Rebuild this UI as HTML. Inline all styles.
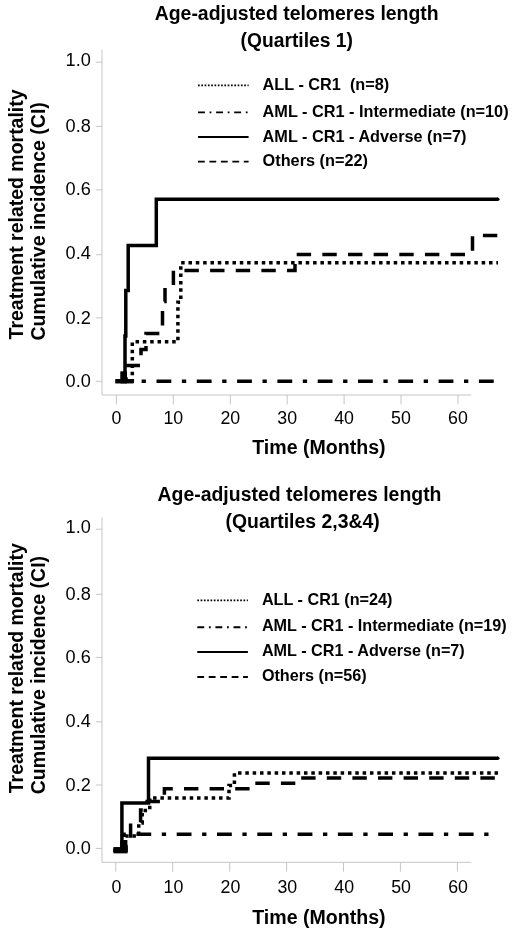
<!DOCTYPE html>
<html><head><meta charset="utf-8"><title>Treatment related mortality</title>
<style>
html,body{margin:0;padding:0;background:#fff;}
body{width:520px;height:937px;overflow:hidden;}
svg{display:block;}
text{font-family:"Liberation Sans", Arial, Helvetica, sans-serif;fill:#000;}
.b{font-weight:bold;}
.r{font-weight:normal;}
</style></head>
<body>
<svg width="520" height="937" viewBox="0 0 520 937">
<rect width="520" height="937" fill="#fff"/>
<path d="M102.0,49.8 V395.0 H471.2" fill="none" stroke="#c2c2c2" stroke-width="0.95"/>
<path d="M95.8,381.3 H102.0" stroke="#c2c2c2" stroke-width="0.95"/>
<text x="65.6" y="386.7" font-size="17.5" class="r" textLength="25.2" lengthAdjust="spacingAndGlyphs">0.0</text>
<path d="M95.8,317.9 H102.0" stroke="#c2c2c2" stroke-width="0.95"/>
<text x="65.6" y="323.5" font-size="17.5" class="r" textLength="25.2" lengthAdjust="spacingAndGlyphs">0.2</text>
<path d="M95.8,254.7 H102.0" stroke="#c2c2c2" stroke-width="0.95"/>
<text x="65.6" y="259.1" font-size="17.5" class="r" textLength="25.2" lengthAdjust="spacingAndGlyphs">0.4</text>
<path d="M95.8,189.9 H102.0" stroke="#c2c2c2" stroke-width="0.95"/>
<text x="65.6" y="194.9" font-size="17.5" class="r" textLength="25.2" lengthAdjust="spacingAndGlyphs">0.6</text>
<path d="M95.8,126.4 H102.0" stroke="#c2c2c2" stroke-width="0.95"/>
<text x="65.6" y="131.9" font-size="17.5" class="r" textLength="25.2" lengthAdjust="spacingAndGlyphs">0.8</text>
<path d="M95.8,62.2 H102.0" stroke="#c2c2c2" stroke-width="0.95"/>
<text x="65.6" y="65.5" font-size="17.5" class="r" textLength="25.2" lengthAdjust="spacingAndGlyphs">1.0</text>
<path d="M116.4,395.0 V404.4" stroke="#c2c2c2" stroke-width="0.95"/>
<text x="116.4" y="424.0" text-anchor="middle" font-size="17.8" class="r">0</text>
<path d="M173.3,395.0 V404.4" stroke="#c2c2c2" stroke-width="0.95"/>
<text x="173.3" y="424.0" text-anchor="middle" font-size="17.8" class="r">10</text>
<path d="M230.3,395.0 V404.4" stroke="#c2c2c2" stroke-width="0.95"/>
<text x="230.3" y="424.0" text-anchor="middle" font-size="17.8" class="r">20</text>
<path d="M287.2,395.0 V404.4" stroke="#c2c2c2" stroke-width="0.95"/>
<text x="287.2" y="424.0" text-anchor="middle" font-size="17.8" class="r">30</text>
<path d="M344.1,395.0 V404.4" stroke="#c2c2c2" stroke-width="0.95"/>
<text x="344.1" y="424.0" text-anchor="middle" font-size="17.8" class="r">40</text>
<path d="M401.0,395.0 V404.4" stroke="#c2c2c2" stroke-width="0.95"/>
<text x="401.0" y="424.0" text-anchor="middle" font-size="17.8" class="r">50</text>
<path d="M458.0,395.0 V404.4" stroke="#c2c2c2" stroke-width="0.95"/>
<text x="458.0" y="424.0" text-anchor="middle" font-size="17.8" class="r">60</text>
<text x="252.2" y="454.1" font-size="19.4" class="b" textLength="133.4" lengthAdjust="spacingAndGlyphs">Time (Months)</text>
<text transform="translate(23.0,339.4) rotate(-90)" font-size="19.4" class="b" textLength="250" lengthAdjust="spacingAndGlyphs">Treatment related mortality</text>
<text transform="translate(45.4,340.6) rotate(-90)" font-size="19.4" class="b" textLength="238.4" lengthAdjust="spacingAndGlyphs">Cumulative incidence (CI)</text>
<text x="154.7" y="19.7" font-size="19.4" class="b" textLength="284" lengthAdjust="spacingAndGlyphs">Age-adjusted telomeres length</text>
<text x="240.6" y="46.7" font-size="19.4" class="b" textLength="112.3" lengthAdjust="spacingAndGlyphs">(Quartiles 1)</text>
<path d="M198,85.4 h50.6" stroke="#000" stroke-width="1.75" stroke-dasharray="1.7 1.6"/>
<text x="262.6" y="90.1" font-size="16.27" class="b" xml:space="preserve">ALL - CR1  (n=8)</text>
<path d="M198,112.4 h50.6" stroke="#000" stroke-width="1.9" stroke-dasharray="6.9 4.7 1.8 4.7"/>
<text x="262.6" y="116.8" font-size="16.27" class="b" xml:space="preserve">AML - CR1 - Intermediate (n=10)</text>
<path d="M198,137.0 h50.6" stroke="#000" stroke-width="2.1"/>
<text x="262.6" y="141.9" font-size="16.27" class="b" xml:space="preserve">AML - CR1 - Adverse (n=7)</text>
<path d="M198,161.6 h50.6" stroke="#000" stroke-width="1.9" stroke-dasharray="6.8 4.65"/>
<text x="262.6" y="166.1" font-size="16.27" class="b" xml:space="preserve">Others (n=22)</text>
<path d="M115.2,381.3 H133.6" fill="none" stroke="#000" stroke-width="4.3" stroke-linejoin="miter" stroke-linecap="butt"/>
<path d="M116.2,381.3 H495" fill="none" stroke="#000" stroke-width="3.5" stroke-linejoin="miter" stroke-linecap="butt" stroke-dasharray="14.8 10.6 4.3 10.6" stroke-dashoffset="0"/>
<path d="M116.4,381.3 H132.3 V341.8 H177.9 V302.2 H180.8 V262.8 H498" fill="none" stroke="#000" stroke-width="3.5" stroke-linejoin="miter" stroke-linecap="butt" stroke-dasharray="3.5 3.83" stroke-dashoffset="0"/>
<path d="M116.4,381.3 H126 V365.5 H141 V349.5 H146 V333.6 H162.5 V301.6 H165 V285.7 H173.4 V270.5 H295 V254.5 H472.5 V235.5 H498.5" fill="none" stroke="#000" stroke-width="3.5" stroke-linejoin="miter" stroke-linecap="butt" stroke-dasharray="14.4 11.25" stroke-dashoffset="0.7"/>
<path d="M116,381.3 H122.3 V373.2 H125 V336 H125.8 V290.6 H128.2 V245.5 H156.3 V199.3 H497.9" fill="none" stroke="#000" stroke-width="3.5" stroke-linejoin="miter" stroke-linecap="butt"/>
<rect x="120.5" y="371.6" width="6.5" height="11.8" fill="#000"/>
<circle cx="497.8" cy="199.3" r="1.75" fill="#000"/>
<path d="M102.0,517.5 V862.3 H471.2" fill="none" stroke="#c2c2c2" stroke-width="0.95"/>
<path d="M95.8,848.4 H102.0" stroke="#c2c2c2" stroke-width="0.95"/>
<text x="65.6" y="854.0" font-size="17.5" class="r" textLength="25.2" lengthAdjust="spacingAndGlyphs">0.0</text>
<path d="M95.8,785.0 H102.0" stroke="#c2c2c2" stroke-width="0.95"/>
<text x="65.6" y="790.8" font-size="17.5" class="r" textLength="25.2" lengthAdjust="spacingAndGlyphs">0.2</text>
<path d="M95.8,721.8 H102.0" stroke="#c2c2c2" stroke-width="0.95"/>
<text x="65.6" y="727.3" font-size="17.5" class="r" textLength="25.2" lengthAdjust="spacingAndGlyphs">0.4</text>
<path d="M95.8,657.4 H102.0" stroke="#c2c2c2" stroke-width="0.95"/>
<text x="65.6" y="662.7" font-size="17.5" class="r" textLength="25.2" lengthAdjust="spacingAndGlyphs">0.6</text>
<path d="M95.8,594.3 H102.0" stroke="#c2c2c2" stroke-width="0.95"/>
<text x="65.6" y="599.6" font-size="17.5" class="r" textLength="25.2" lengthAdjust="spacingAndGlyphs">0.8</text>
<path d="M95.8,529.2 H102.0" stroke="#c2c2c2" stroke-width="0.95"/>
<text x="65.6" y="533.2" font-size="17.5" class="r" textLength="25.2" lengthAdjust="spacingAndGlyphs">1.0</text>
<path d="M115.8,862.3 V871.7" stroke="#c2c2c2" stroke-width="0.95"/>
<text x="116.5" y="892.6" text-anchor="middle" font-size="17.8" class="r">0</text>
<path d="M172.7,862.3 V871.7" stroke="#c2c2c2" stroke-width="0.95"/>
<text x="173.4" y="892.6" text-anchor="middle" font-size="17.8" class="r">10</text>
<path d="M229.7,862.3 V871.7" stroke="#c2c2c2" stroke-width="0.95"/>
<text x="230.4" y="892.6" text-anchor="middle" font-size="17.8" class="r">20</text>
<path d="M286.6,862.3 V871.7" stroke="#c2c2c2" stroke-width="0.95"/>
<text x="287.3" y="892.6" text-anchor="middle" font-size="17.8" class="r">30</text>
<path d="M343.5,862.3 V871.7" stroke="#c2c2c2" stroke-width="0.95"/>
<text x="344.2" y="892.6" text-anchor="middle" font-size="17.8" class="r">40</text>
<path d="M400.4,862.3 V871.7" stroke="#c2c2c2" stroke-width="0.95"/>
<text x="401.1" y="892.6" text-anchor="middle" font-size="17.8" class="r">50</text>
<path d="M457.4,862.3 V871.7" stroke="#c2c2c2" stroke-width="0.95"/>
<text x="458.1" y="892.6" text-anchor="middle" font-size="17.8" class="r">60</text>
<text x="252.2" y="924.1" font-size="19.4" class="b" textLength="133.4" lengthAdjust="spacingAndGlyphs">Time (Months)</text>
<text transform="translate(23.0,793.2) rotate(-90)" font-size="19.4" class="b" textLength="250" lengthAdjust="spacingAndGlyphs">Treatment related mortality</text>
<text transform="translate(45.4,794.3) rotate(-90)" font-size="19.4" class="b" textLength="238.4" lengthAdjust="spacingAndGlyphs">Cumulative incidence (CI)</text>
<text x="157.5" y="501.2" font-size="19.4" class="b" textLength="284" lengthAdjust="spacingAndGlyphs">Age-adjusted telomeres length</text>
<text x="225.5" y="528.0" font-size="19.4" class="b" textLength="154.2" lengthAdjust="spacingAndGlyphs">(Quartiles 2,3&amp;4)</text>
<path d="M197.3,600.3 h50.6" stroke="#000" stroke-width="1.75" stroke-dasharray="1.7 1.6"/>
<text x="261.9" y="604.6" font-size="16.2" class="b" xml:space="preserve">ALL - CR1 (n=24)</text>
<path d="M197.3,627.3 h50.6" stroke="#000" stroke-width="1.9" stroke-dasharray="6.9 4.7 1.8 4.7"/>
<text x="261.9" y="631.3" font-size="16.2" class="b" xml:space="preserve">AML - CR1 - Intermediate (n=19)</text>
<path d="M197.3,652.0 h50.6" stroke="#000" stroke-width="2.1"/>
<text x="261.9" y="656.4" font-size="16.2" class="b" xml:space="preserve">AML - CR1 - Adverse (n=7)</text>
<path d="M197.3,677.0 h50.6" stroke="#000" stroke-width="1.9" stroke-dasharray="6.8 4.65"/>
<text x="261.9" y="680.6" font-size="16.2" class="b" xml:space="preserve">Others (n=56)</text>
<path d="M113.4,850.2 H127.6" fill="none" stroke="#000" stroke-width="6.3" stroke-linejoin="miter" stroke-linecap="butt"/>
<path d="M123.7,840 V850.2" fill="none" stroke="#000" stroke-width="7" stroke-linejoin="miter" stroke-linecap="butt"/>
<path d="M113.5,850.2 H124.2 V834.3 H490" fill="none" stroke="#000" stroke-width="3.5" stroke-linejoin="miter" stroke-linecap="butt" stroke-dasharray="14.8 10.6 4.3 10.6" stroke-dashoffset="1.5"/>
<path d="M113.5,850.2 H125.5 V836 H138.75 V823 H142.2 V810.5 H149.75 V798 H229 V785.6 H234.4 V773 H498" fill="none" stroke="#000" stroke-width="3.5" stroke-linejoin="miter" stroke-linecap="butt" stroke-dasharray="3.5 3.83" stroke-dashoffset="-3.8"/>
<path d="M113.5,850.2 H126 V836 H130.6 V823 H140.6 V810 H147.2 V801.5 H164.4 V788.8 H252.6 V783.3 H298 V778 H496" fill="none" stroke="#000" stroke-width="3.5" stroke-linejoin="miter" stroke-linecap="butt" stroke-dasharray="14.4 11.2" stroke-dashoffset="-3.9"/>
<path d="M113.5,850.2 H121.9 V803.1 H148.5 V758.3 H497.9" fill="none" stroke="#000" stroke-width="3.5" stroke-linejoin="miter" stroke-linecap="butt"/>
<circle cx="497.8" cy="758.3" r="1.75" fill="#000"/>
</svg>
</body></html>
